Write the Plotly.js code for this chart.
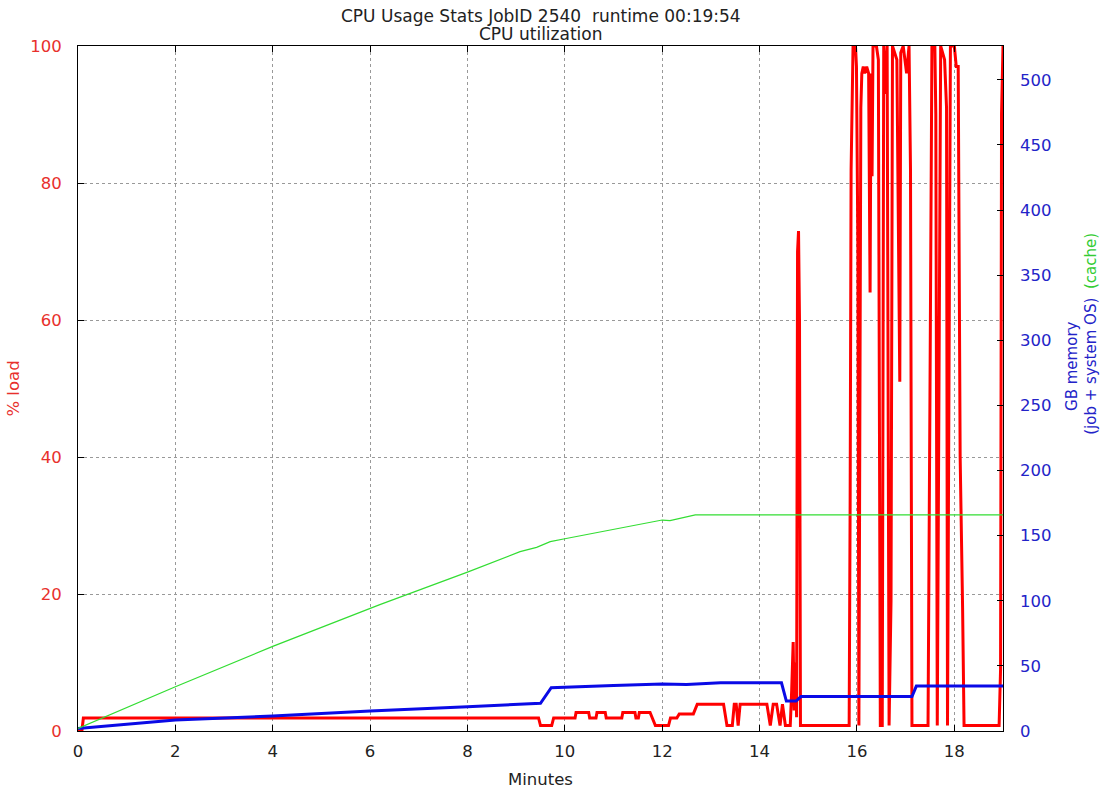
<!DOCTYPE html>
<html>
<head>
<meta charset="utf-8">
<script src="https://cdn.plot.ly/plotly-3.0.1.min.js"></script>
<style>html,body{margin:0;padding:0;background:#fff;}#chart{width:1101px;height:791px;}</style>
</head>
<body>
<div id="chart"></div>
<script>
// CPU load (% load, left axis)
const cpuMinutes = [0, 0.08, 0.11, 9.46, 9.50, 9.73, 9.77, 10.21, 10.23, 10.49, 10.51, 10.64, 10.66, 10.83, 10.85,
  11.17, 11.19, 11.44, 11.46, 11.51, 11.53, 11.75, 11.86, 12.13, 12.17, 12.30, 12.35, 12.64, 12.72, 13.26, 13.33,
  13.44, 13.48, 13.52, 13.56, 13.60, 14.15, 14.22, 14.28, 14.35, 14.42, 14.47, 14.53, 14.63, 14.66, 14.69, 14.71,
  14.74, 14.76, 14.78, 14.80, 14.82, 14.84, 15.84, 15.86, 15.88, 15.92, 15.97, 15.99, 16.02, 16.04, 16.06, 16.08,
  16.10, 16.13, 16.16, 16.20, 16.24, 16.27, 16.29, 16.31, 16.33, 16.40, 16.44, 16.48, 16.52, 16.55, 16.58, 16.62,
  16.66, 16.70, 16.73, 16.82, 16.88, 16.90, 16.95, 17.02, 17.07, 17.10, 17.13, 17.46, 17.50, 17.54, 17.60, 17.62,
  17.65, 17.72, 17.80, 17.84, 17.86, 17.92, 18.00, 18.04, 18.08, 18.12, 18.17, 18.20, 18.92, 18.95, 18.97, 19.0];
const cpuLoad = [0, 0, 1.9, 1.9, 0.8, 0.8, 1.9, 1.9, 2.7, 2.7, 1.9, 1.9, 2.7, 2.7, 1.9,
  1.9, 2.7, 2.7, 1.9, 1.9, 2.7, 2.7, 0.8, 0.8, 1.9, 1.9, 2.5, 2.5, 3.9, 3.9, 0.8,
  0.8, 3.9, 3.9, 0.8, 3.9, 3.9, 0.8, 3.9, 3.9, 0.8, 3.9, 0.8, 0.8, 6, 13, 3,
  10, 2, 70, 73, 60, 0.8, 0.8, 33, 82, 100, 100, 97, 70, 0.8, 43, 91,
  96, 97, 96, 97, 96, 64, 96, 81, 100, 100, 98, 0.8, 0.8, 100, 93, 100,
  0.8, 19, 100, 98, 51, 99, 100, 96, 100, 82, 0.8, 0.8, 49, 100, 100, 90,
  0.8, 100, 98, 91, 0.8, 100, 100, 97, 97, 40, 18, 0.8, 0.8, 9, 90, 100];

// Memory, job + system OS (GB, right axis)
const memMinutes = [0, 2, 4, 6, 8, 9.5, 9.72, 10.5, 11, 12, 12.5, 13.2, 14, 14.45, 14.55, 14.75, 14.85, 17.13, 17.22, 19.0];
const memGB = [2, 8.4, 11.5, 15.4, 18.7, 21.3, 33.3, 34, 35, 36, 35.7, 37, 37, 37, 23, 23, 26.4, 26.4, 34.5, 34.5];

// Memory, cache (GB, right axis)
const cacheMinutes = [0, 2, 4, 6.2, 8, 9.08, 9.42, 9.7, 10, 12, 12.16, 12.68, 19.0];
const cacheGB = [2, 34, 65, 97, 122, 137.7, 141, 145.4, 147.6, 162, 161.5, 166, 166];

const xTicks = [0, 2, 4, 6, 8, 10, 12, 14, 16, 18];
const loadTicks = [0, 20, 40, 60, 80, 100];
const gbTicks = [0, 50, 100, 150, 200, 250, 300, 350, 400, 450, 500];

const titleLine1 = 'CPU Usage Stats JobID 2540\u00a0\u00a0runtime 00:19:54';
const titleLine2 = 'CPU utilization';

const FONT = 'DejaVu Sans, sans-serif';
const RED = '#ff0000', BLUE = '#0a0ae6', GREEN = '#33dd33';

const traces = [
  {x: cpuMinutes, y: cpuLoad, type: 'scatter', mode: 'lines', line: {color: RED, width: 3}, yaxis: 'y', hoverinfo: 'skip'},
  {x: memMinutes, y: memGB, type: 'scatter', mode: 'lines', line: {color: BLUE, width: 3}, yaxis: 'y2', hoverinfo: 'skip'},
  {x: cacheMinutes, y: cacheGB, type: 'scatter', mode: 'lines', line: {color: GREEN, width: 1.2}, yaxis: 'y2', hoverinfo: 'skip'}
];

const layout = {
  width: 1101, height: 791,
  margin: {l: 78, r: 98, t: 46, b: 60},
  paper_bgcolor: '#fff', plot_bgcolor: '#fff',
  showlegend: false,
  font: {family: FONT, size: 17, color: '#222'},
  xaxis: {
    range: [0, 19.0], tickvals: xTicks, ticktext: xTicks.map(String),
    ticks: 'inside', ticklen: 6, tickcolor: '#000',
    showline: true, linecolor: '#000', linewidth: 1, mirror: 'ticks',
    showgrid: true, gridcolor: '#999', griddash: 'dot', gridwidth: 1,
    zeroline: false, ticklabelstandoff: 5,
    tickfont: {family: FONT, size: 16.5, color: '#222'},
    title: {text: 'Minutes', font: {family: FONT, size: 16.5, color: '#222'}, standoff: 13}
  },
  yaxis: {
    range: [0, 100], tickvals: loadTicks, ticktext: loadTicks.map(String),
    ticks: 'inside', ticklen: 6, tickcolor: '#000',
    showline: true, linecolor: '#000', linewidth: 1, mirror: true,
    showgrid: true, gridcolor: '#999', griddash: 'dot', gridwidth: 1,
    zeroline: false, ticklabelstandoff: 12,
    tickfont: {family: FONT, size: 16.5, color: '#e8302c'},
    title: {text: '% load', font: {family: FONT, size: 16.5, color: '#e8302c'}, standoff: 6}
  },
  yaxis2: {
    range: [0, 526], tickvals: gbTicks, ticktext: gbTicks.map(String),
    overlaying: 'y', side: 'right', anchor: 'x',
    ticks: 'inside', ticklen: 6, tickcolor: '#000',
    showline: false, showgrid: false, zeroline: false, ticklabelstandoff: 16,
    tickfont: {family: FONT, size: 16.5, color: '#2323c8'}
  },
  annotations: [
    {text: titleLine1, xref: 'paper', yref: 'paper', x: 0.5, y: 1.0438,
     xanchor: 'center', yanchor: 'middle', showarrow: false,
     font: {family: FONT, size: 17, color: '#222'}},
    {text: titleLine2, xref: 'paper', yref: 'paper', x: 0.5, y: 1.0175,
     xanchor: 'center', yanchor: 'middle', showarrow: false,
     font: {family: FONT, size: 17, color: '#222'}},
    {text: 'GB memory<br>(job + system OS)', xref: 'paper', yref: 'paper', x: 1.0845, y: 0.532,
     xanchor: 'center', yanchor: 'middle', textangle: -90, showarrow: false,
     font: {family: FONT, size: 15, color: '#2323c8'}},
    {text: '(cache)', xref: 'paper', yref: 'paper', x: 1.0951, y: 0.686,
     xanchor: 'center', yanchor: 'middle', textangle: -90, showarrow: false,
     font: {family: FONT, size: 15, color: '#33cc33'}}
  ]
};

Plotly.newPlot('chart', traces, layout, {staticPlot: true, displayModeBar: false});
</script>
</body>
</html>
